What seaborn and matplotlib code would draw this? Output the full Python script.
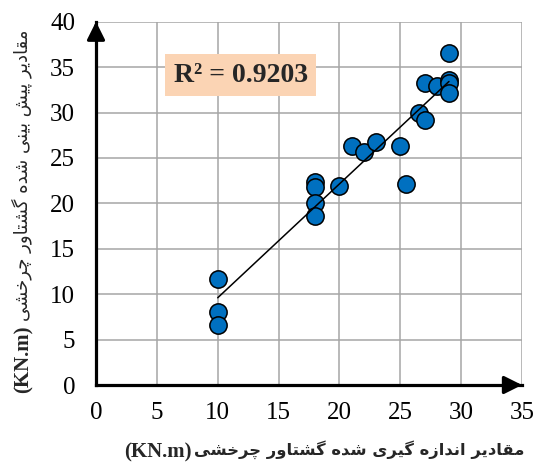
import numpy as np
import pandas as pd
import matplotlib
matplotlib.use("Agg")
import matplotlib.pyplot as plt
import seaborn as sns

# ---- data ----
measured = [10, 10, 10, 18, 18, 18, 18, 20, 21, 22, 23, 25, 25.5, 26.5, 27, 27, 28, 29, 29, 29, 29]
predicted = [11.7, 8.0, 6.6, 22.3, 21.8, 20.0, 18.6, 21.9, 26.3, 25.7, 26.7, 26.3, 22.1, 30.0, 29.2, 33.2, 32.9, 36.5, 33.6, 33.2, 32.2]
x_ticks = [0, 5, 10, 15, 20, 25, 30, 35]
y_ticks = [0, 5, 10, 15, 20, 25, 30, 35, 40]
r2_label = "R² = 0.9203"
xlabel_fa = "مقادیر اندازه گیری شده گشتاور چرخشی"
ylabel_fa = "مقادیر پیش بینی شده گشتاور چرخشی"
unit = "(KN.m)"

# ---- minimal Persian shaping (matplotlib has no complex text layout) ----
FORMS = {
    "ا": ("\uFE8D", "\uFE8E", None, None),
    "ب": ("\uFE8F", "\uFE90", "\uFE91", "\uFE92"),
    "پ": ("\uFB56", "\uFB57", "\uFB58", "\uFB59"),
    "ت": ("\uFE95", "\uFE96", "\uFE97", "\uFE98"),
    "چ": ("\uFB7A", "\uFB7B", "\uFB7C", "\uFB7D"),
    "خ": ("\uFEA5", "\uFEA6", "\uFEA7", "\uFEA8"),
    "د": ("\uFEA9", "\uFEAA", None, None),
    "ر": ("\uFEAD", "\uFEAE", None, None),
    "ز": ("\uFEAF", "\uFEB0", None, None),
    "ش": ("\uFEB5", "\uFEB6", "\uFEB7", "\uFEB8"),
    "ق": ("\uFED5", "\uFED6", "\uFED7", "\uFED8"),
    "گ": ("\uFB92", "\uFB93", "\uFB94", "\uFB95"),
    "م": ("\uFEE1", "\uFEE2", "\uFEE3", "\uFEE4"),
    "ن": ("\uFEE5", "\uFEE6", "\uFEE7", "\uFEE8"),
    "ه": ("\uFEE9", "\uFEEA", "\uFEEB", "\uFEEC"),
    "و": ("\uFEED", "\uFEEE", None, None),
    "ی": ("\uFBFC", "\uFBFD", "\uFBFE", "\uFBFF"),
}


def shape(s):
    out = []
    for i, c in enumerate(s):
        if c not in FORMS:
            out.append(c)
            continue
        prev = s[i - 1] if i > 0 else None
        nxt = s[i + 1] if i + 1 < len(s) else None
        jp = prev in FORMS and FORMS[prev][2] is not None
        jn = nxt in FORMS and FORMS[c][2] is not None
        iso, fin, ini, med = FORMS[c]
        if jp and jn:
            out.append(med)
        elif jp:
            out.append(fin)
        elif jn:
            out.append(ini)
        else:
            out.append(iso)
    return "".join(out)[::-1]


df = pd.DataFrame({"measured": measured, "predicted": predicted})

sns.set_theme(style="white")
plt.rcParams["font.family"] = ["Liberation Serif", "DejaVu Sans"]

W, H = 535, 463
fig = plt.figure(figsize=(W / 100, H / 100), dpi=100)
ax = fig.add_axes([96 / W, (H - 385) / H, (522 - 96) / W, (385 - 21.7) / H])

sns.regplot(
    data=df, x="measured", y="predicted", ax=ax, ci=None, truncate=True,
    scatter_kws=dict(s=155, color="#0070C0", edgecolor="black", linewidths=1.1, alpha=1, zorder=3),
    line_kws=dict(color="black", lw=1.1, zorder=4),
)

ax.set_xlim(0, 35)
ax.set_ylim(0, 40)
ax.set_xticks(x_ticks)
ax.set_yticks(y_ticks)
ax.grid(True, color="#A6A6A6", lw=1.1, zorder=0)
ax.set_axisbelow(True)
for s in ["top", "right"]:
    ax.spines[s].set_visible(False)
for s in ["left", "bottom"]:
    ax.spines[s].set_color("black")
    ax.spines[s].set_linewidth(2.3)
ax.tick_params(direction="inout", length=8, width=2.2, color="black",
               labelsize=18, labelcolor="black")
ax.tick_params(axis="y", pad=11)
ax.tick_params(axis="x", pad=8)
ax.set_xlabel("")
ax.set_ylabel("")

# arrow heads at axis ends
ax.annotate("", xy=(1, 0), xytext=(0.96, 0), xycoords="axes fraction",
            arrowprops=dict(arrowstyle="-|>,head_length=0.9,head_width=0.45",
                            color="black", lw=2.3, shrinkA=0, shrinkB=0))
ax.annotate("", xy=(0, 1), xytext=(0, 0.96), xycoords="axes fraction",
            arrowprops=dict(arrowstyle="-|>,head_length=0.9,head_width=0.45",
                            color="black", lw=2.3, shrinkA=0, shrinkB=0))

# R^2 box
ax.text(11.9, 34.1, r2_label, fontsize=20, fontweight="bold", ha="center", va="center",
        family="Liberation Serif",
        bbox=dict(boxstyle="square,pad=0.3", fc="#FBD4B4", ec="none"), zorder=5)

r = fig.canvas.get_renderer()

# x label: Persian (bold) right part, unit (bold serif) to its left
xfa = fig.text(525 / W, 1 - 450 / H, shape(xlabel_fa), fontsize=12, fontweight="bold",
               ha="right", va="center", family=["DejaVu Sans"])
bb = xfa.get_window_extent(r)
xfa.set_fontsize(12 * 328 / bb.width)
bb = xfa.get_window_extent(r)
fig.text((bb.x0 - 3) / W, 1 - 452 / H, unit, fontsize=15, fontweight="bold",
         ha="right", va="center", family=["Liberation Serif"])

# y label (Persian regular on top, unit bold below)
yfa = fig.text(22 / W, 1 - 30 / H, shape(ylabel_fa), fontsize=13, rotation=90,
               ha="center", va="top", family=["DejaVu Sans"])
bb = yfa.get_window_extent(r)
yfa.set_fontsize(13 * 290 / bb.height)
bb = yfa.get_window_extent(r)
fig.text(24 / W, (bb.y0 - 4) / H, unit, fontsize=15, fontweight="bold", rotation=90,
         ha="center", va="top", family=["Liberation Serif"])

fig.savefig("out.png", dpi=100)
